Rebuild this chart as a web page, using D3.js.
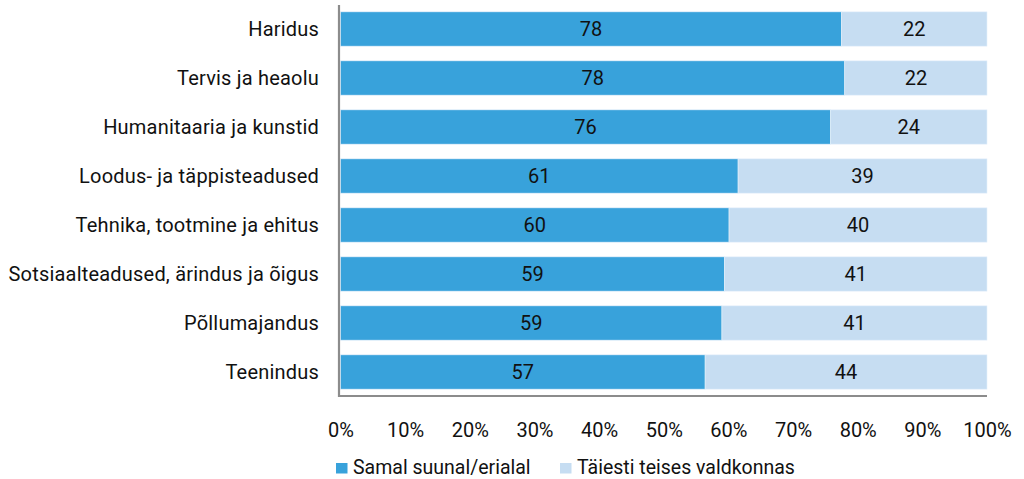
<!DOCTYPE html>
<html>
<head>
<meta charset="utf-8">
<script src="https://cdn.jsdelivr.net/npm/d3@7"></script>
<style>
  body { margin: 0; background: #fff; }
  svg text { font-family: Roboto, "Noto Sans", sans-serif; fill: #111; }
</style>
</head>
<body>
<svg width="1024" height="479"></svg>
<script>
var categories = ["Haridus", "Tervis ja heaolu", "Humanitaaria  ja kunstid", "Loodus- ja täppisteadused",
  "Tehnika, tootmine ja ehitus", "Sotsiaalteadused, ärindus ja õigus", "Põllumajandus", "Teenindus"];
var samal = [77.5, 78.0, 75.8, 61.5, 60.1, 59.4, 59.0, 56.4];
var teises = [22.5, 22.0, 24.2, 38.5, 39.9, 40.6, 41.0, 43.6];
var samalLabels = ["78", "78", "76", "61", "60", "59", "59", "57"];
var teisesLabels = ["22", "22", "24", "39", "40", "41", "41", "44"];
var ticks = [0, 10, 20, 30, 40, 50, 60, 70, 80, 90, 100];
var seriesNames = ["Samal suunal/erialal", "Täiesti teises valdkonnas"];
var colors = ["#38a2db", "#c6ddf2"];

var svg = d3.select("svg");

var x = d3.scaleLinear().domain([0, 100]).range([340.5, 987]);
var y = d3.scaleBand().domain(categories).range([4.5, 396.5]).paddingInner(0.3).paddingOuter(0.15);

var rows = categories.map(function(c, i) {
  return { cat: c, a: samal[i], b: teises[i], la: samalLabels[i], lb: teisesLabels[i] };
});

var g = svg.append("g");

// first series
g.selectAll("rect.a").data(rows).enter().append("rect")
  .attr("class", "a")
  .attr("x", x(0))
  .attr("y", function(d) { return y(d.cat); })
  .attr("width", function(d) { return x(d.a) - x(0); })
  .attr("height", y.bandwidth())
  .attr("fill", colors[0])
  .attr("stroke", "#e4f0fa").attr("stroke-width", 0.6);

// second series
g.selectAll("rect.b").data(rows).enter().append("rect")
  .attr("class", "b")
  .attr("x", function(d) { return x(d.a); })
  .attr("y", function(d) { return y(d.cat); })
  .attr("width", function(d) { return x(d.a + d.b) - x(d.a); })
  .attr("height", y.bandwidth())
  .attr("fill", colors[1])
  .attr("stroke", "#e4f0fa").attr("stroke-width", 0.6);

// value labels
g.selectAll("text.la").data(rows).enter().append("text")
  .attr("x", function(d) { return (x(0) + x(d.a)) / 2; })
  .attr("y", function(d) { return y(d.cat) + y.bandwidth() / 2; })
  .attr("dy", "0.36em")
  .attr("text-anchor", "middle")
  .style("font-size", "20px")
  .text(function(d) { return d.la; });

g.selectAll("text.lb").data(rows).enter().append("text")
  .attr("x", function(d) { return (x(d.a) + x(d.a + d.b)) / 2; })
  .attr("y", function(d) { return y(d.cat) + y.bandwidth() / 2; })
  .attr("dy", "0.36em")
  .attr("text-anchor", "middle")
  .style("font-size", "20px")
  .text(function(d) { return d.lb; });

// category axis
var yAxis = svg.append("g")
  .attr("transform", "translate(339,0)")
  .call(d3.axisLeft(y).tickSize(0).tickPadding(20));
yAxis.select(".domain").remove();
yAxis.selectAll("text").style("font-size", "20px").style("letter-spacing", "0.2px")
  .attr("fill", "#111").attr("dy", "0.36em");

// axis lines
svg.append("line").attr("x1", 339).attr("x2", 339).attr("y1", 5).attr("y2", 397)
  .attr("stroke", "#8c8c8c").attr("stroke-width", 2.2);
svg.append("line").attr("x1", 338).attr("x2", 987).attr("y1", 396).attr("y2", 396)
  .attr("stroke", "#8c8c8c").attr("stroke-width", 2.2);

// percent axis
var xAxis = svg.append("g")
  .attr("transform", "translate(0,396)")
  .call(d3.axisBottom(x).tickValues(ticks).tickSize(0).tickPadding(27)
    .tickFormat(function(d) { return d + "%"; }));
xAxis.select(".domain").remove();
xAxis.selectAll("text").style("font-size", "20px").attr("fill", "#111");

// legend
var legX = [336, 560];
var leg = svg.append("g");
seriesNames.forEach(function(name, i) {
  leg.append("rect").attr("x", legX[i]).attr("y", 463).attr("width", 11.5).attr("height", 10.5)
    .attr("fill", colors[i]);
  leg.append("text").attr("x", legX[i] + 17).attr("y", 473.5)
    .style("font-size", "19.5px").text(name);
});
</script>
</body>
</html>
